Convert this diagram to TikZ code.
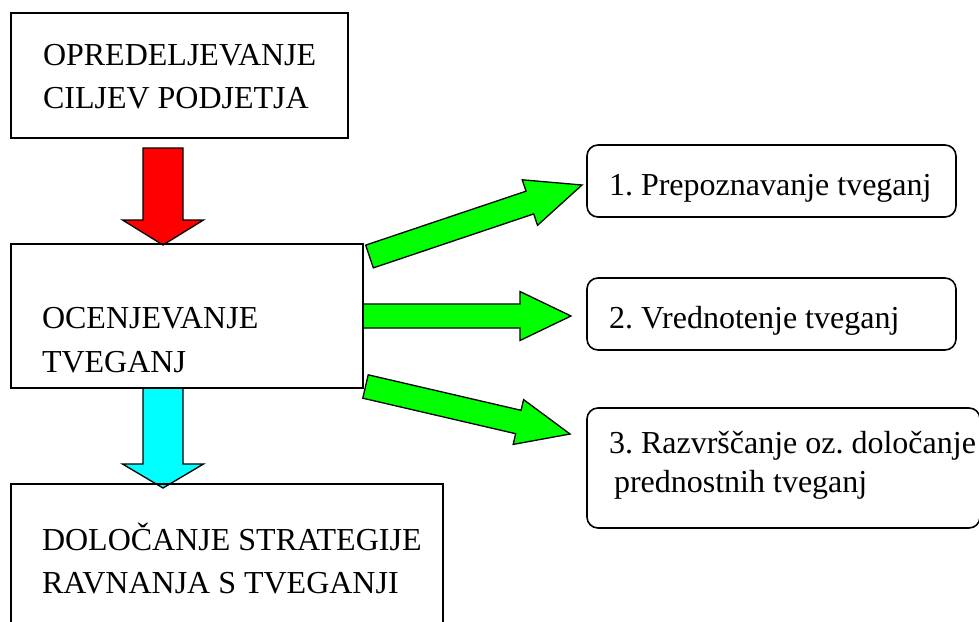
\documentclass[tikz,border=0pt]{standalone}
\usepackage{fontspec}
\setmainfont{Liberation Serif}
\usetikzlibrary{calc}
\frenchspacing
\definecolor{arrred}{RGB}{255,0,0}
\definecolor{arrgreen}{RGB}{0,255,0}
\definecolor{arrcyan}{RGB}{0,255,255}
\tikzset{
  box/.style={draw=black, line width=1.6pt, rectangle, inner sep=0pt, outer sep=0pt, anchor=north west},
  rbox/.style={box, rounded corners=11pt},
  txt/.style={inner sep=0pt, outer sep=0pt, anchor=base west, font=\fontsize{32}{38}\selectfont},
  arrowline/.style={draw=black, line width=1.3pt, line join=miter}
}
% #1 from, #2 to, #3 fill, #4 half shaft width, #5 half head width, #6 head length
\newcommand\fatarrow[6]{%
  \coordinate (fah) at ($(#2)!#6!(#1)$);
  \draw[arrowline, fill=#3] ($(#1)!#4!90:(#2)$) -- ($(fah)!#4!90:(#2)$) -- ($(fah)!#5!90:(#2)$) -- (#2)
     -- ($(fah)!#5!-90:(#2)$) -- ($(fah)!#4!-90:(#2)$) -- ($(#1)!#4!-90:(#2)$) -- cycle;
}
\begin{document}
\frenchspacing
\begin{tikzpicture}[x=1pt, y=-1pt]
\useasboundingbox (0,0) rectangle (979,621);
\clip (0,0) rectangle (979,621);
\fill[white] (0,0) rectangle (979,621);

% arrow end points
\coordinate (redS) at (163,148);
\coordinate (redE) at (163,245);
\coordinate (cyS) at (163,388);
\coordinate (cyE) at (163,488);
\coordinate (g1S) at (369.5,256.5);
\coordinate (g1E) at (582,185);
\coordinate (g2S) at (363,316);
\coordinate (g2E) at (571,316);
\coordinate (g3S) at (365.5,386.5);
\coordinate (g3E) at (570,434);

\fatarrow{redS}{redE}{arrred}{20pt}{40.5pt}{25pt}
\fatarrow{cyS}{cyE}{arrcyan}{20pt}{40.5pt}{24pt}
\fatarrow{g1S}{g1E}{arrgreen}{12pt}{24pt}{55pt}
\fatarrow{g2S}{g2E}{arrgreen}{12pt}{24.5pt}{51pt}
\fatarrow{g3S}{g3E}{arrgreen}{12pt}{23pt}{53pt}

% boxes
\node[box, minimum width=337pt, minimum height=125pt] (goal) at (11,13) {};
\node[box, minimum width=352pt, minimum height=144pt] (assess) at (11,244) {};
\node[box, minimum width=432pt, minimum height=170pt] (strategy) at (11,484) {};
\node[rbox, minimum width=369pt, minimum height=72pt] (step1) at (587,145) {};
\node[rbox, minimum width=369pt, minimum height=72pt] (step2) at (587,278) {};
\node[rbox, minimum width=393pt, minimum height=120pt] (step3) at (587,408) {};

% texts
\node[txt] (goalA) at (43,65) {OPREDELJEVANJE};
\node[txt] (goalB) at (43,108) {CILJEV PODJETJA};
\node[txt] (assessA) at (42,328) {OCENJEVANJE};
\node[txt] (assessB) at (42,372) {TVEGANJ};
\node[txt] (stratA) at (42,550) {DOLOČANJE STRATEGIJE};
\node[txt] (stratB) at (42,593) {RAVNANJA S TVEGANJI};
\node[txt] (s1) at (609,195) {1. Prepoznavanje tveganj};
\node[txt] (s2) at (609,328) {2. Vrednotenje tveganj};
\node[txt] (s3a) at (609,453) {3. Razvrščanje oz. določanje};
\node[txt] (s3b) at (614,492) {prednostnih tveganj};
\end{tikzpicture}
\end{document}
